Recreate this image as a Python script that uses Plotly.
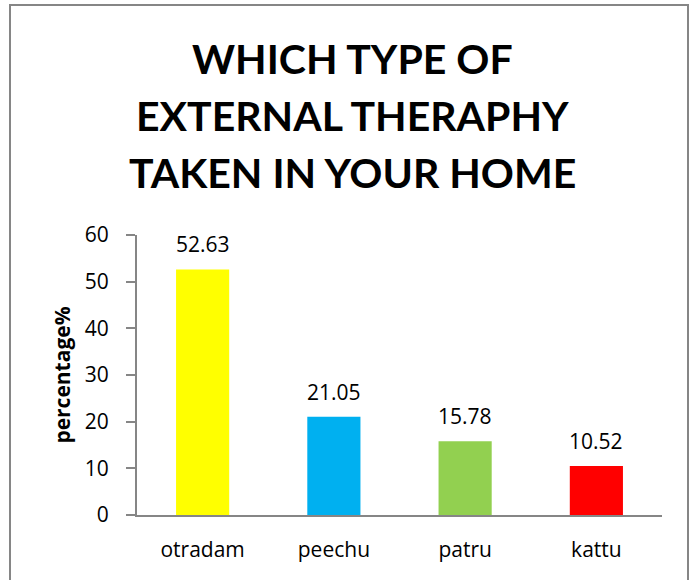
import plotly.graph_objects as go

categories = ["otradam", "peechu", "patru", "kattu"]
values = [52.63, 21.05, 15.78, 10.52]
labels = ["52.63", "21.05", "15.78", "10.52"]
colors = ["#FFFF00", "#00B0F0", "#92D050", "#FF0000"]
y_ticks = [0, 10, 20, 30, 40, 50, 60]
title_lines = ["WHICH TYPE OF", "EXTERNAL THERAPHY", "TAKEN IN YOUR HOME"]

FONT = "Open Sans"
TFONT = "Lato"

L, R, T, B = 137, 32, 235, 65
PW, PH = 694 - L - R, 580 - T - B

fig = go.Figure(go.Bar(
    x=categories, y=values, marker=dict(color=colors, line=dict(width=0)),
    width=0.405, hoverinfo="skip",
))

for c, v, t in zip(categories, values, labels):
    fig.add_annotation(x=c, y=v, text=t, showarrow=False, yanchor="bottom",
                       yshift=9, font=dict(family=FONT, size=21, color="#000"))

for i, line in enumerate(title_lines):
    py = 58 + i * 57.5
    fig.add_annotation(xref="paper", yref="paper", x=(352 - L) / PW,
                       y=(T + PH - py) / PH, text=f"<b>{line}</b>", showarrow=False,
                       xanchor="center", yanchor="middle",
                       font=dict(family=TFONT, size=41, color="#000"))

fig.update_layout(
    width=694, height=580,
    margin=dict(l=L, r=R, t=T, b=B),
    paper_bgcolor="white", plot_bgcolor="white",
    showlegend=False,
    xaxis=dict(
        showline=True, linecolor="#868686", linewidth=2,
        ticks="", tickfont=dict(family=FONT, size=21, color="#000"),
        ticklabelstandoff=15, showgrid=False, zeroline=False,
    ),
    yaxis=dict(
        range=[0, 60], tickvals=y_ticks, showline=True, linecolor="#868686",
        linewidth=2, ticks="outside", ticklen=9, tickcolor="#868686", tickwidth=2,
        tickfont=dict(family=FONT, size=21, color="#000"),
        ticklabelstandoff=13, showgrid=False, zeroline=False,
        title=dict(text="<b>percentage%</b>", standoff=8,
                   font=dict(family=FONT, size=21, color="#000")),
    ),
)

fig.add_shape(type="rect", xref="paper", yref="paper",
              x0=(10 - L) / PW, x1=(688 - L) / PW,
              y0=(T + PH - 600) / PH, y1=(T + PH - 5) / PH,
              line=dict(color="#868686", width=2), fillcolor="rgba(0,0,0,0)")

fig.write_html("out.html", config={"displayModeBar": False},
               post_script="document.body.style.margin='0px';")
